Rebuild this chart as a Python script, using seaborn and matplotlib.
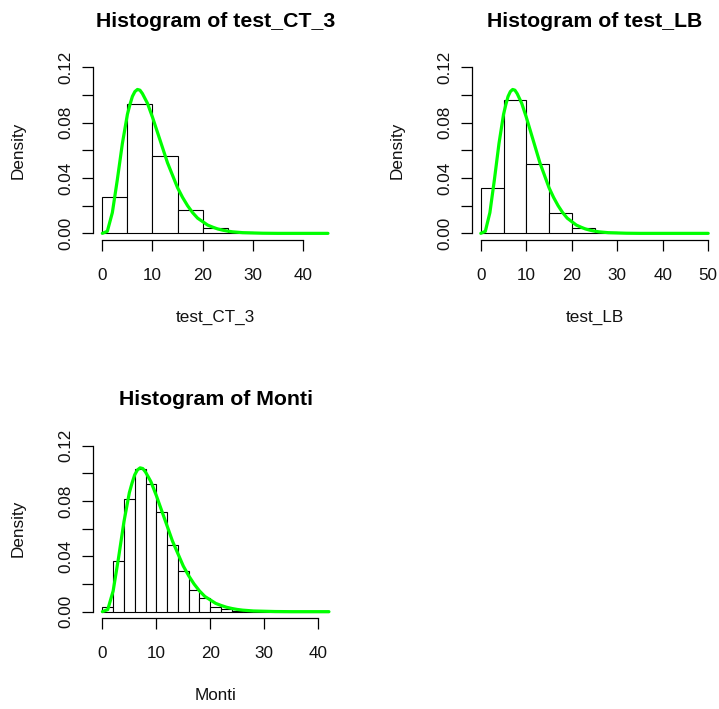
import matplotlib
matplotlib.use('Agg')
import matplotlib.pyplot as plt
import numpy as np
import seaborn as sns

# histogram densities
ct3_edges = [0, 5, 10, 15, 20, 25, 30, 35, 40, 45]
ct3_dens = [0.0265, 0.0933, 0.0559, 0.0166, 0.0040, 0.0012, 0.0003, 0.0001, 0.0001]

lb_edges = [0, 5, 10, 15, 20, 25, 30, 35, 40, 45, 50]
lb_dens = [0.0325, 0.0964, 0.0501, 0.0149, 0.0040, 0.0012, 0.0004, 0.0002, 0.0001, 0.0001]

monti_edges = list(range(0, 44, 2))
monti_dens = [0.0031, 0.0364, 0.0815, 0.1029, 0.0920, 0.0718, 0.0479, 0.0294, 0.0157,
              0.0099, 0.0036, 0.0017, 0.0008, 0.0004, 0.0002, 0.0001, 0.0001, 0.0001,
              0.0, 0.0, 0.0]

# green density curve
curve_x = [0, 1, 2, 3, 4, 5, 5.5, 6, 6.5, 7, 7.5, 8, 9, 10, 11, 12, 13, 14, 15, 16, 17,
           18, 19, 20, 21, 22, 23, 24, 25, 26, 27, 28, 29, 30, 32, 35]
curve_y = [0.0, 0.0015, 0.015, 0.039, 0.065, 0.086, 0.093, 0.099, 0.1025, 0.104, 0.1035,
           0.101, 0.094, 0.084, 0.073, 0.062, 0.051, 0.042, 0.033, 0.026, 0.020,
           0.015, 0.011, 0.0085, 0.006, 0.0045, 0.0032, 0.0023, 0.0016, 0.0011,
           0.0008, 0.0005, 0.0004, 0.0003, 0.0001, 0.0]

names = ['test_CT_3', 'test_LB', 'Monti']
x_max = [45, 50, 42]
x_ticks = [[0, 10, 20, 30, 40], [0, 10, 20, 30, 40, 50], [0, 10, 20, 30, 40]]
y_ticks = [0, 0.02, 0.04, 0.06, 0.08, 0.10, 0.12]
y_labels = ['0.00', '', '0.04', '', '0.08', '', '0.12']

sns.set_style("ticks")
plt.rcParams['font.family'] = ['Liberation Sans', 'DejaVu Sans']

W, H = 719, 709
fig = plt.figure(figsize=(W / 100, H / 100), dpi=100)

# plot regions in pixels: left, right, top, bottom
boxes = [(93.3, 337.0, 60.7, 240.0), (471.7, 717.3, 60.7, 240.0), (93.3, 338.0, 439.1, 618.3)]
data = [(ct3_edges, ct3_dens), (lb_edges, lb_dens), (monti_edges, monti_dens)]

for i in range(3):
    L, R, T, B = boxes[i]
    ax = fig.add_axes([L / W, 1 - B / H, (R - L) / W, (B - T) / H])
    edges, dens = data[i]
    centers = [(edges[k] + edges[k + 1]) / 2 for k in range(len(dens))]
    sns.histplot(x=centers, weights=dens, bins=edges, stat='count', ax=ax,
                 color='white', edgecolor='black', linewidth=0.8, alpha=1)
    cx = curve_x + [x_max[i]]
    cy = curve_y + [0.0]
    sns.lineplot(x=cx, y=cy, ax=ax, color='#00ff00', linewidth=2.3, zorder=5)

    pad_x = 0.04 * x_max[i]
    ax.set_xlim(-pad_x, x_max[i] + pad_x)
    ax.set_ylim(-0.0048, 0.1248)
    ax.set_xticks(x_ticks[i])
    ax.set_xticklabels([str(t) for t in x_ticks[i]])
    ax.set_yticks(y_ticks)
    ax.set_yticklabels(y_labels, rotation=90, va='center')
    ax.spines['top'].set_visible(False)
    ax.spines['right'].set_visible(False)
    ax.spines['bottom'].set_bounds(0, x_ticks[i][-1])
    ax.spines['left'].set_bounds(0, 0.12)
    for s in ['bottom', 'left']:
        ax.spines[s].set_linewidth(0.9)
        ax.spines[s].set_color('black')
    ax.tick_params(axis='both', direction='out', length=8, width=0.9, color='black',
                   labelsize=12.3, labelcolor='#111111')
    ax.tick_params(axis='x', pad=12)
    ax.tick_params(axis='y', pad=6)

    h = B - T
    ax.set_xlabel(names[i], fontsize=12.3, color='#111111')
    ax.xaxis.set_label_coords(0.5, -77.7 / h)
    ax.xaxis.label.set_va('center')
    ax.set_ylabel('Density', fontsize=12.3, color='#111111')
    ax.yaxis.set_label_coords(-75 / (R - L), 0.5)
    ax.yaxis.label.set_va('center')
    ax.set_title('Histogram of ' + names[i], fontsize=15.3, fontweight='bold',
                 y=1 + 39.5 / h, va='center', pad=0, color='black')

fig.savefig('out.png', dpi=100)
